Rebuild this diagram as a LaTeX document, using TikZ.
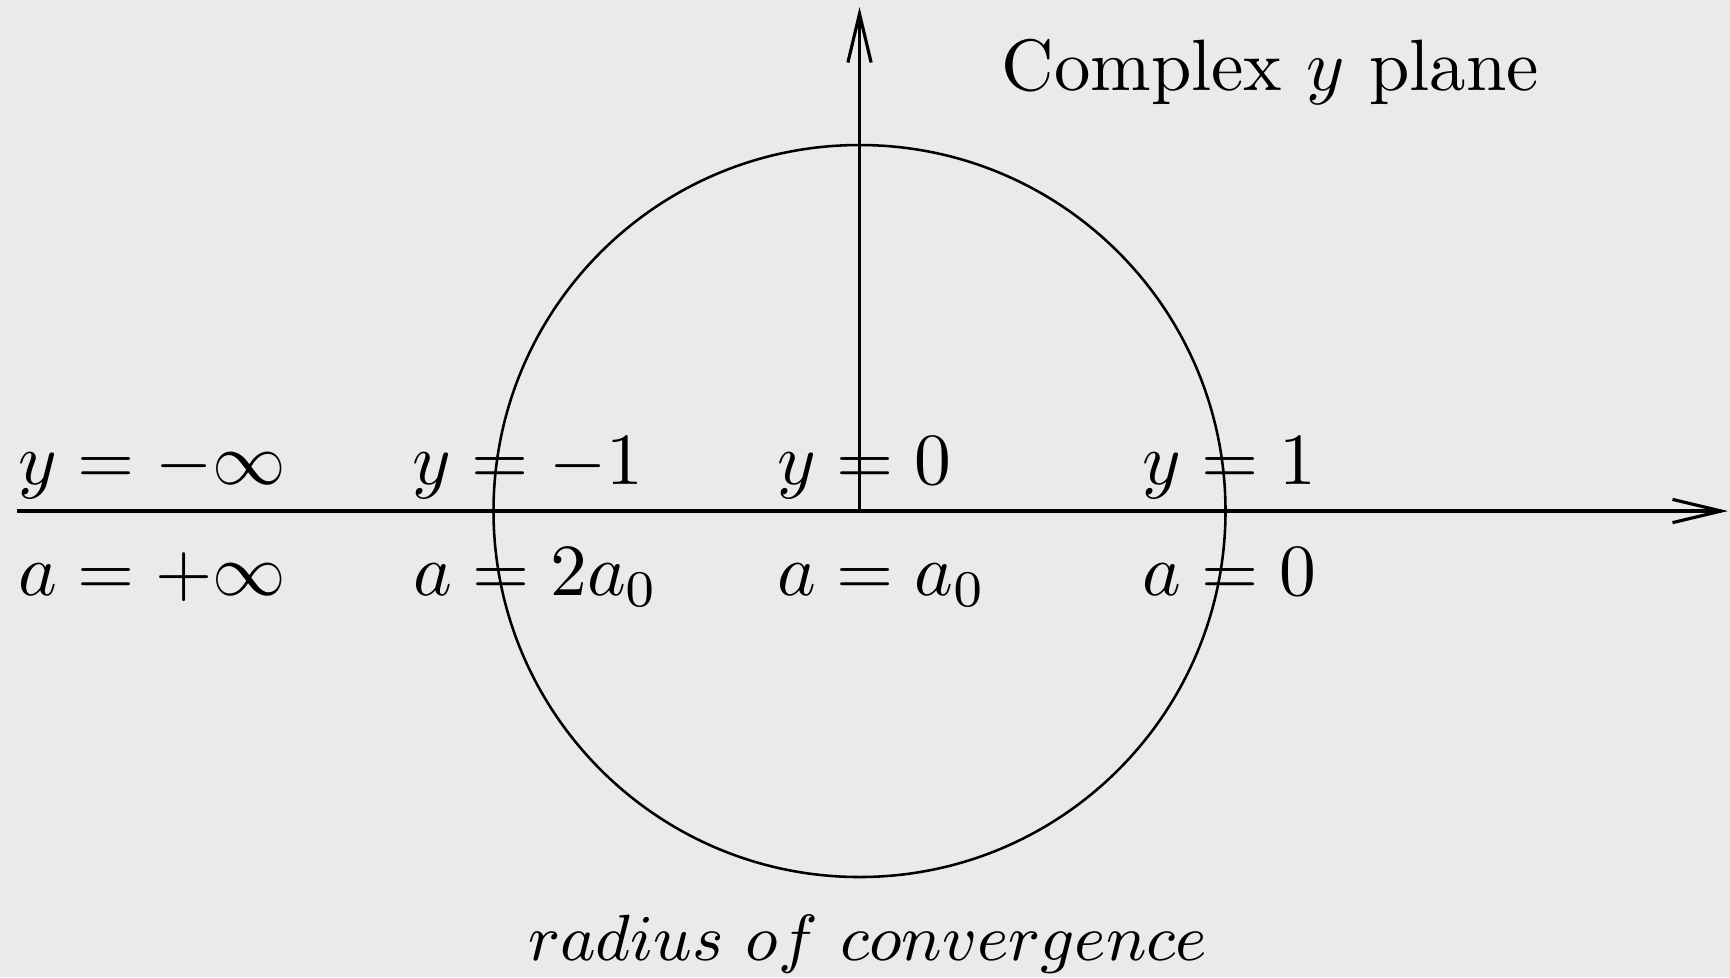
\documentclass[tikz,border=0pt]{standalone}
\usetikzlibrary{arrows.meta}
\definecolor{bg}{RGB}{234,234,234}
\newcommand{\lbl}[1]{\scalebox{0.98}{$#1$}}
\begin{document}
\begin{tikzpicture}[x=0.13333pt,y=-0.13333pt,
  axis/.style={line width=0.42pt,-{Straight Barb[length=6.5pt,width=3.1pt,line width=0.42pt]}},
  lab/.style={inner sep=0pt,anchor=base west,font=\fontsize{10}{12}\selectfont},
  conv/.style={line width=0.34pt}]
\fill[bg] (0,0) rectangle (1730,977);
\useasboundingbox (0,0) rectangle (1730,977);
\coordinate (O) at (859.5,511);
\coordinate (xs) at (17,511);
\coordinate (xe) at (1728,511);
\coordinate (yt) at (859.5,7);
\draw[axis] (xs) -- (xe);
\draw[axis] (O) -- (yt);
\draw[conv] (O) circle (366);
\node[lab] (title) at (1000,90.5) {\scalebox{0.97}{Complex $y$ plane}};
\node[lab] (y1) at (17,484) {\lbl{y=-\infty}};
\node[lab] (y2) at (411,484) {\lbl{y=-1}};
\node[lab] (y3) at (776,484) {\lbl{y=0}};
\node[lab] (y4) at (1141,484) {\lbl{y=1}};
\node[lab] (a1) at (17,595) {\lbl{a=+\infty}};
\node[lab] (a2) at (412,595) {\lbl{a=2a_0}};
\node[lab] (a3) at (776,595) {\lbl{a=a_0}};
\node[lab] (a4) at (1141,595) {\lbl{a=0}};
\node[inner sep=0pt,anchor=base,font=\fontsize{9}{11}\selectfont] (rc) at (868,960) {\scalebox{0.968}{$radius\ of\ convergence$}};
\end{tikzpicture}
\end{document}
